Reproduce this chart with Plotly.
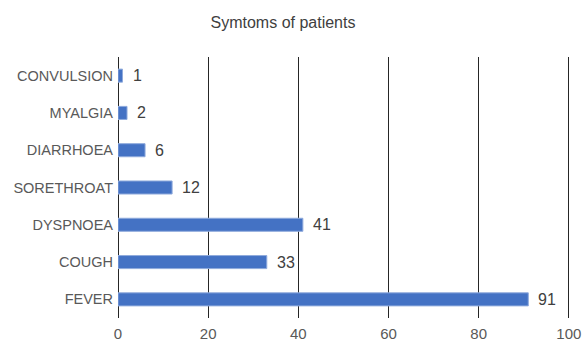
import plotly.graph_objects as go

categories = ["FEVER", "COUGH", "DYSPNOEA", "SORETHROAT", "DIARRHOEA", "MYALGIA", "CONVULSION"]
values = [91, 33, 41, 12, 6, 2, 1]
x_ticks = [0, 20, 40, 60, 80, 100]

FONT = "Liberation Sans, Arial"

fig = go.Figure()
fig.add_trace(go.Bar(
    y=categories, x=values, orientation="h",
    marker=dict(color="#4472C4", line=dict(color="#8FAADC", width=1)),
    width=0.35,
    hoverinfo="skip",
))
for c, v in zip(categories, values):
    fig.add_annotation(x=v, y=c, text=str(v), showarrow=False,
                       xanchor="left", xshift=8,
                       font=dict(family=FONT, size=16, color="#404040"))

fig.update_layout(
    width=588, height=343,
    margin=dict(l=118, r=18, t=57, b=25, autoexpand=False),
    paper_bgcolor="white", plot_bgcolor="white",
    showlegend=False,
    title=dict(text="Symtoms of patients", x=283/588, xanchor="center", y=1 - 22/343, yanchor="middle",
               font=dict(family=FONT, size=16, color="#404040")),
    font=dict(family=FONT, color="#595959"),
)
fig.update_xaxes(range=[0, 100.25], tickvals=x_ticks, showgrid=True, gridcolor="#262626", gridwidth=1,
                 zeroline=True, zerolinecolor="#262626", zerolinewidth=1, automargin=False,
                 showline=False, tickfont=dict(family=FONT, size=15, color="#595959"), ticks="",
                 ticklabelstandoff=5)
fig.update_yaxes(categoryorder="array", categoryarray=categories, showgrid=False, automargin=False,
                 tickfont=dict(family=FONT, size=14.5, color="#595959"), ticks="",
                 ticklabelstandoff=4)

fig.write_html("out.html")
